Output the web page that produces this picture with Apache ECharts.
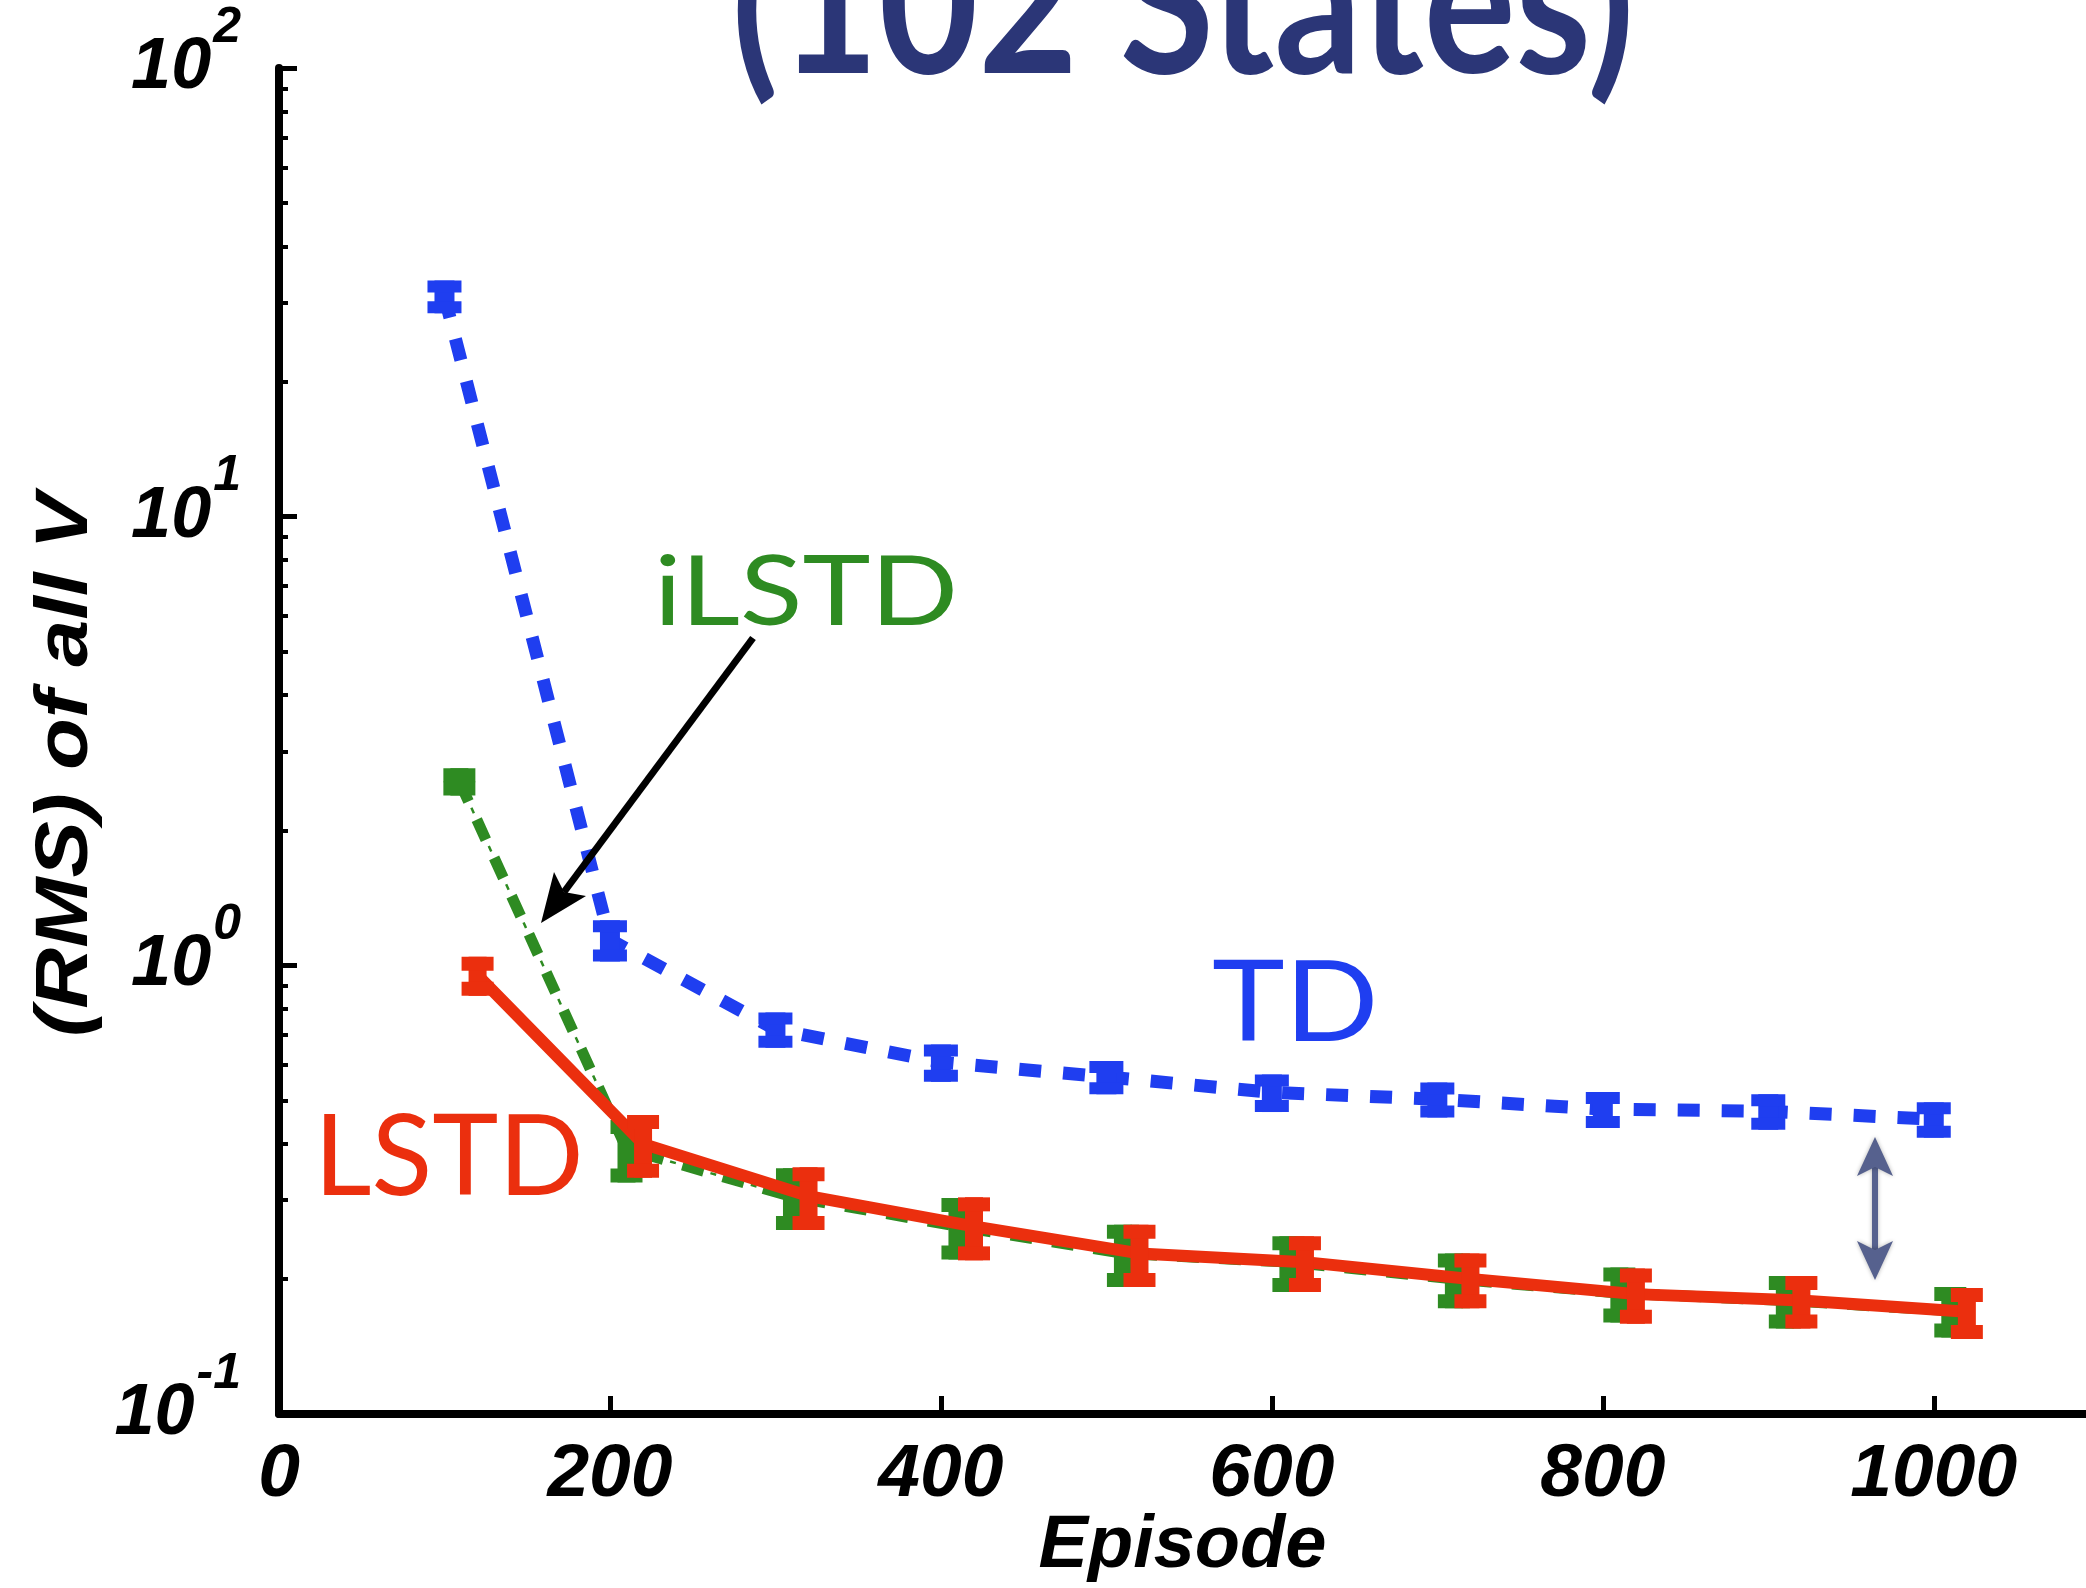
<!DOCTYPE html>
<html>
<head>
<meta charset="utf-8">
<title>(102 States) RMS of all V</title>
<script src="https://cdn.jsdelivr.net/npm/echarts@6/dist/echarts.min.js"></script>
<style>
html, body { margin: 0; padding: 0; background: #fff; }
#chart { width: 2086px; height: 1588px; }
</style>
</head>
<body>
<div id="chart"></div>
<script>
// TD - blue dashed
var tdEpisode = [100, 200, 300, 400, 500, 600, 700, 800, 900, 1000];
var tdRms = [31, 1.14, 0.72, 0.608, 0.564, 0.521, 0.503, 0.478, 0.473, 0.454];
var tdErr = [2.6, 0.12, 0.065, 0.058, 0.048, 0.05, 0.045, 0.044, 0.043, 0.041];

// iLSTD - green dash-dot
var ilstdEpisode = [109, 210, 310, 410, 510, 610, 710, 810, 910, 1010];
var ilstdRms = [2.57, 0.39, 0.305, 0.262, 0.228, 0.218, 0.2, 0.186, 0.179, 0.17];
var ilstdErr = [0.18, 0.062, 0.048, 0.041, 0.036, 0.031, 0.028, 0.026, 0.024, 0.022];

// LSTD - red solid
var lstdEpisode = [120, 220, 320, 420, 520, 620, 720, 820, 920, 1020];
var lstdRms = [0.95, 0.40, 0.306, 0.262, 0.228, 0.218, 0.200, 0.185, 0.179, 0.169];
var lstdErr = [0.095, 0.064, 0.049, 0.042, 0.036, 0.031, 0.028, 0.026, 0.024, 0.022];

// axis ticks
var xLabels = [0, 200, 400, 600, 800, 1000];
var xTicks = [200, 400, 600, 800, 1000];
var yMinorTicks = [0.2, 0.3, 0.4, 0.5, 0.6, 0.7, 0.8, 0.9,
	2, 3, 4, 5, 6, 7, 8, 9,
	20, 30, 40, 50, 60, 70, 80, 90];

var blue = '#1f3ef0';
var green = '#2e8b22';
var red = '#eb2f0e';
var axisFont = 'Liberation Sans';

function pairs(xs, ys) {
	return xs.map(function (x, i) { return [x, ys[i]]; });
}
function triples(xs, ys, es) {
	return xs.map(function (x, i) { return [x, ys[i], es[i]]; });
}

// I-beam error bar: stem + two caps
function errorBar(color, capW, capH, stemW) {
	return function (params, api) {
		var x = api.value(0), y = api.value(1), e = api.value(2);
		var hi = api.coord([x, y + e]);
		var lo = api.coord([x, y - e]);
		var st = { fill: color };
		return {
			type: 'group',
			children: [
				{ type: 'rect', shape: { x: hi[0] - stemW / 2, y: hi[1], width: stemW, height: lo[1] - hi[1] }, style: st },
				{ type: 'rect', shape: { x: hi[0] - capW / 2, y: hi[1], width: capW, height: capH }, style: st },
				{ type: 'rect', shape: { x: lo[0] - capW / 2, y: lo[1] - capH, width: capW, height: capH }, style: st }
			]
		};
	};
}

var chart = echarts.init(document.getElementById('chart'));

var option = {
	backgroundColor: '#fff',
	animation: false,
	grid: { left: 279, top: 68, right: 0, bottom: 174, containLabel: false, outerBoundsMode: 'none' },
	xAxis: {
		type: 'value',
		min: 0,
		max: 1092,
		name: 'Episode',
		nameLocation: 'middle',
		nameGap: 96,
		nameMoveOverlap: false,
		nameTextStyle: { fontFamily: axisFont, fontWeight: 'bold', fontStyle: 'italic', fontSize: 74, color: '#000' },
		axisLine: { onZero: false, lineStyle: { color: '#000', width: 8 } },
		axisTick: { inside: true, length: 18, customValues: xTicks, lineStyle: { color: '#000', width: 5 } },
		axisLabel: {
			customValues: xLabels,
			margin: 24,
			formatter: function (v) { return String(v); },
			fontFamily: axisFont, fontWeight: 'bold', fontStyle: 'italic', fontSize: 75, color: '#000'
		},
		splitLine: { show: false }
	},
	yAxis: [{
		type: 'log',
		min: 0.1,
		max: 100,
		axisLine: { lineStyle: { color: '#000', width: 8 } },
		axisTick: { inside: true, length: 18, lineStyle: { color: '#000', width: 5 } },
		axisLabel: {
			margin: 38,
			formatter: function (v) {
				var p = Math.round(Math.log10(v));
				return '{b|10}{s|' + (p < 0 ? '-' + (-p) : p) + '}';
			},
			rich: {
				b: { fontFamily: axisFont, fontWeight: 'bold', fontStyle: 'italic', fontSize: 72, color: '#000', lineHeight: 130, verticalAlign: 'middle' },
				s: { fontFamily: axisFont, fontWeight: 'bold', fontStyle: 'italic', fontSize: 50, color: '#000', verticalAlign: 'top', padding: [0, 0, 0, 2] }
			}
		},
		splitLine: { show: false }
	}, {
		// minor log ticks
		type: 'log',
		min: 0.1,
		max: 100,
		position: 'left',
		axisLine: { show: false },
		axisLabel: { show: false },
		axisTick: { inside: true, length: 9, customValues: yMinorTicks, lineStyle: { color: '#000', width: 4 } },
		splitLine: { show: false }
	}],
	series: [{
		name: 'TD',
		type: 'line',
		z: 2,
		symbol: 'none',
		data: pairs(tdEpisode, tdRms),
		lineStyle: { color: blue, width: 13, type: [22, 22], cap: 'butt' }
	}, {
		name: 'TD err',
		type: 'custom',
		z: 3,
		data: triples(tdEpisode, tdRms, tdErr),
		encode: { x: 0, y: 1 },
		renderItem: errorBar(blue, 34, 12, 20)
	}, {
		name: 'iLSTD',
		type: 'line',
		z: 4,
		symbol: 'none',
		data: pairs(ilstdEpisode, ilstdRms),
		lineStyle: { color: green, width: 11, type: [22, 20], cap: 'butt' }
	}, {
		name: 'iLSTD dot',
		type: 'line',
		z: 4,
		symbol: 'none',
		data: pairs(ilstdEpisode, ilstdRms),
		lineStyle: { color: green, width: 2.5, type: [6, 36], dashOffset: 13, cap: 'butt' }
	}, {
		name: 'iLSTD err',
		type: 'custom',
		z: 5,
		data: triples(ilstdEpisode, ilstdRms, ilstdErr),
		encode: { x: 0, y: 1 },
		renderItem: errorBar(green, 32, 14, 18)
	}, {
		name: 'LSTD',
		type: 'line',
		z: 6,
		symbol: 'none',
		data: pairs(lstdEpisode, lstdRms),
		lineStyle: { color: red, width: 12 }
	}, {
		name: 'LSTD err',
		type: 'custom',
		z: 7,
		data: triples(lstdEpisode, lstdRms, lstdErr),
		encode: { x: 0, y: 1 },
		renderItem: errorBar(red, 32, 14, 18)
	}],
	graphic: [{
		type: 'text',
		x: 1183,
		y: 8,
		scaleX: 0.86,
		z: 20,
		style: {
			text: '(102 States)',
			fontFamily: 'Lato',
			fontWeight: 'bold',
			fontSize: 200,
			fill: '#2b3677',
			align: 'center',
			verticalAlign: 'middle',
			shadowColor: 'rgba(0,0,0,0.5)',
			shadowBlur: 12,
			shadowOffsetX: 4,
			shadowOffsetY: 12
		}
	}, {
		// y axis title, stretched along its length like the original
		type: 'text', x: 67, y: 765, rotation: Math.PI / 2, scaleX: 1.14, z: 20,
		style: { text: '(RMS) of all V', fontFamily: axisFont, fontWeight: 'bold', fontStyle: 'italic', fontSize: 74, fill: '#000', align: 'center', verticalAlign: 'middle' }
	}, {
		type: 'text', x: 654, y: 594, scaleX: 1.2, z: 20,
		style: { text: 'iLSTD', fontFamily: 'Lato', fontSize: 96, fill: green, align: 'left', verticalAlign: 'middle' }
	}, {
		type: 'text', x: 1212, y: 1005, scaleX: 1.1, z: 20,
		style: { text: 'TD', fontFamily: 'Lato', fontSize: 112, fill: blue, align: 'left', verticalAlign: 'middle' }
	}, {
		type: 'text', x: 314, y: 1159, scaleX: 1.0, z: 20,
		style: { text: 'LSTD', fontFamily: 'Lato', fontSize: 112, fill: red, align: 'left', verticalAlign: 'middle' }
	}, {
		// black arrow pointing at iLSTD curve
		type: 'line', z: 20,
		shape: { x1: 753, y1: 638, x2: 564, y2: 892 },
		style: { stroke: '#000', lineWidth: 7 }
	}, {
		type: 'polygon', z: 20,
		shape: { points: [[541, 923], [586, 896], [564, 892], [554, 872]] },
		style: { fill: '#000' }
	}, {
		// gap arrow between TD and LSTD
		type: 'line', z: 20,
		shape: { x1: 1875, y1: 1165, x2: 1875, y2: 1252 },
		style: { stroke: '#56618e', lineWidth: 6, shadowColor: 'rgba(0,0,0,0.3)', shadowBlur: 4 }
	}, {
		type: 'polygon', z: 20,
		shape: { points: [[1875, 1137], [1893, 1176], [1875, 1167], [1857, 1176]] },
		style: { fill: '#56618e', shadowColor: 'rgba(0,0,0,0.3)', shadowBlur: 4 }
	}, {
		type: 'polygon', z: 20,
		shape: { points: [[1875, 1280], [1893, 1241], [1875, 1250], [1857, 1241]] },
		style: { fill: '#56618e', shadowColor: 'rgba(0,0,0,0.3)', shadowBlur: 4 }
	}]
};

chart.setOption(option);
</script>
</body>
</html>
